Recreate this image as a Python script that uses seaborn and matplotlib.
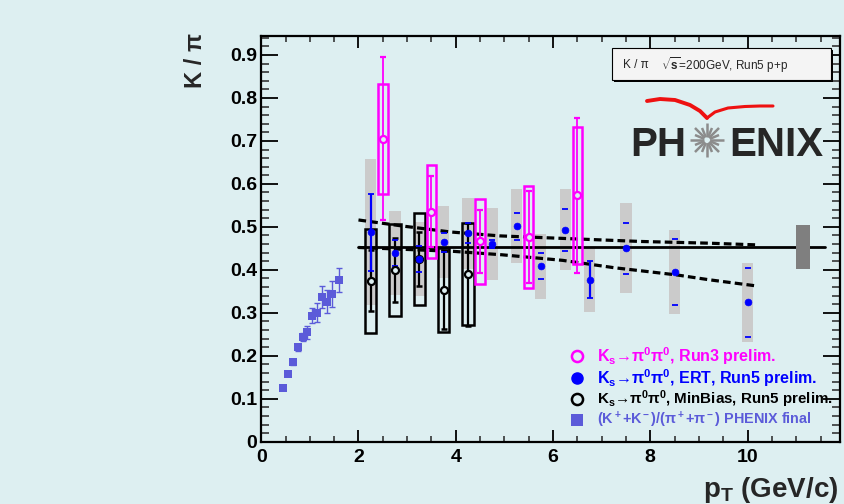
import numpy as np
import matplotlib
matplotlib.use("Agg")
import matplotlib.pyplot as plt
from matplotlib.patches import Rectangle
import seaborn as sns

# ---------------- data ----------------
# PHENIX final (K+ + K-)/(pi+ + pi-)
fin_pt = [0.45, 0.55, 0.65, 0.75, 0.85, 0.95, 1.05, 1.15, 1.25, 1.35, 1.45, 1.60]
fin_val = [0.126, 0.158, 0.185, 0.220, 0.244, 0.255, 0.293, 0.300, 0.337, 0.326, 0.344, 0.377]
fin_err = [0.004, 0.005, 0.006, 0.008, 0.010, 0.015, 0.017, 0.022, 0.025, 0.027, 0.030, 0.028]

# Ks -> pi0 pi0, ERT, Run5 prelim.
ert_pt = [2.25, 2.75, 3.25, 3.75, 4.25, 4.75, 5.25, 5.75, 6.25, 6.75, 7.5, 8.5, 10.0]
ert_val = [0.487, 0.439, 0.425, 0.464, 0.485, 0.460, 0.501, 0.408, 0.493, 0.377, 0.450, 0.395, 0.324]
ert_stat = [0.089, 0.030, 0.030, 0.022, 0.023, 0.010, 0.031, 0.030, 0.049, 0.043, 0.059, 0.077, 0.080]
ert_sys = [0.170, 0.097, 0.086, 0.084, 0.083, 0.083, 0.086, 0.075, 0.094, 0.075, 0.105, 0.097, 0.092]
ert_line_idx = [0, 9]   # points whose vertical stat bar is visible

# Ks -> pi0 pi0, MinBias, Run5 prelim.
mb_pt = [2.25, 2.75, 3.25, 3.75, 4.25]
mb_val = [0.375, 0.400, 0.425, 0.353, 0.390]
mb_stat = [0.070, 0.075, 0.062, 0.090, 0.120]
mb_sys = [0.121, 0.107, 0.107, 0.098, 0.119]

# Ks -> pi0 pi0, Run3 prelim.
r3_pt = [2.5, 3.5, 4.5, 5.5, 6.5]
r3_val = [0.705, 0.535, 0.466, 0.476, 0.573]
r3_stat = [0.190, 0.083, 0.073, 0.107, 0.180]
r3_sys = [0.128, 0.108, 0.099, 0.118, 0.160]

# constant fit and its band
fit_val = 0.454
fit_sys = 0.051
fit_range = [2.0, 11.6]
band_up_x = [2.0, 2.9, 3.9, 4.9, 6.0, 7.8, 9.2, 10.2]
band_up_y = [0.516, 0.502, 0.488, 0.479, 0.474, 0.466, 0.462, 0.458]
band_lo_x = [2.0, 3.95, 4.95, 6.2, 7.25, 8.55, 9.2, 10.15]
band_lo_y = [0.452, 0.443, 0.435, 0.422, 0.405, 0.388, 0.377, 0.363]

xticks = [0, 2, 4, 6, 8, 10]
yticks = [0, 0.1, 0.2, 0.3, 0.4, 0.5, 0.6, 0.7, 0.8, 0.9]
ytick_labels = ["0", "0.1", "0.2", "0.3", "0.4", "0.5", "0.6", "0.7", "0.8", "0.9"]

legend_labels = [
    "K$_s$\u2192\u03c0$^0$\u03c0$^0$, Run3 prelim.",
    "K$_s$\u2192\u03c0$^0$\u03c0$^0$, ERT, Run5 prelim.",
    "K$_s$\u2192\u03c0$^0$\u03c0$^0$, MinBias, Run5 prelim.",
    "(K$^+$+K$^-$)/(\u03c0$^+$+\u03c0$^-$) PHENIX final",
]

# ---------------- style ----------------
BG = "#ddeff1"
MAG = "#ff00ff"
BLUE = "#0000ff"
SLATE = "#5b5bd9"
GREY = "#cbcbcb"

sns.set_theme(style="white")
plt.rcParams["font.family"] = ["Liberation Sans", "DejaVu Sans"]
plt.rcParams["font.weight"] = "bold"
plt.rcParams["mathtext.fontset"] = "custom"
plt.rcParams["mathtext.rm"] = "Liberation Sans:bold"
plt.rcParams["mathtext.it"] = "Liberation Sans:bold"
plt.rcParams["mathtext.bf"] = "Liberation Sans:bold"
plt.rcParams["mathtext.default"] = "bf"

W, H = 844, 504
fig = plt.figure(figsize=(W / 100, H / 100), dpi=100, facecolor=BG)
x0px, x1px = 261.2, 840.0
y0px, ypx_per = 441.7, 429.7
ymax = 0.945
xmax = 11.9
ax = fig.add_axes([x0px / W, 1 - y0px / H, (x1px - x0px) / W, ymax * ypx_per / H])
ax.set_facecolor(BG)
ax.set_xlim(0, xmax)
ax.set_ylim(0, ymax)

# grey systematic boxes (ERT)
hw = 0.115
for p, v, s in zip(ert_pt, ert_val, ert_sys):
    ax.add_patch(Rectangle((p - hw, v - s), 2 * hw, 2 * s, fc=GREY, ec="none", zorder=1))

# fit line, band and fit systematic box
ax.plot(fit_range, [fit_val, fit_val], color="black", lw=2.0, zorder=2)
ax.plot(band_up_x, band_up_y, color="black", lw=2.3, ls=(0, (2.4, 1.3)), zorder=2)
ax.plot(band_lo_x, band_lo_y, color="black", lw=2.3, ls=(0, (2.4, 1.3)), zorder=2)
fit_box_x, fit_box_hw = 11.14, 0.15
ax.add_patch(Rectangle((fit_box_x - fit_box_hw, fit_val - fit_sys), 2 * fit_box_hw, 2 * fit_sys,
                       fc="#7f7f7f", ec="none", zorder=2))

# MinBias black boxes + errors
for p, v, s in zip(mb_pt, mb_val, mb_sys):
    ax.add_patch(Rectangle((p - hw, v - s), 2 * hw, 2 * s, fill=False, ec="black", lw=1.8, zorder=3))
ax.errorbar(mb_pt, mb_val, yerr=mb_stat, fmt="none", ecolor="black", elinewidth=1.6,
            capsize=2.5, capthick=1.8, zorder=3)

# ERT stat errors (caps) and markers
ax.errorbar(ert_pt, ert_val, yerr=ert_stat, fmt="none", ecolor=BLUE, elinewidth=0,
            capsize=2.2, capthick=1.3, zorder=4)
ax.errorbar([ert_pt[i] for i in ert_line_idx], [ert_val[i] for i in ert_line_idx],
            yerr=[ert_stat[i] for i in ert_line_idx], fmt="none", ecolor=BLUE,
            elinewidth=1.6, capsize=0, zorder=4)
sns.scatterplot(x=ert_pt, y=ert_val, marker="o", s=24, color=BLUE, edgecolor=BLUE,
                linewidth=0.5, ax=ax, zorder=6)

# MinBias circles
sns.scatterplot(x=mb_pt, y=mb_val, marker="o", s=26, facecolor=BG, edgecolor="black",
                linewidth=1.6, ax=ax, zorder=5)

# Run3 magenta
hw3 = 0.097
for p, v, s in zip(r3_pt, r3_val, r3_sys):
    ax.add_patch(Rectangle((p - hw3, v - s), 2 * hw3, 2 * s, fill=False, ec=MAG, lw=1.8, zorder=5))
ax.errorbar(r3_pt, r3_val, yerr=r3_stat, fmt="none", ecolor=MAG, elinewidth=1.3,
            capsize=2.5, capthick=1.6, zorder=5)
sns.scatterplot(x=r3_pt, y=r3_val, marker="o", s=26, facecolor=BG, edgecolor=MAG,
                linewidth=1.6, ax=ax, zorder=6)

# PHENIX final
ax.errorbar(fin_pt, fin_val, yerr=fin_err, fmt="none", ecolor=SLATE, elinewidth=1.0,
            capsize=2, capthick=1.0, zorder=6)
sns.scatterplot(x=fin_pt, y=fin_val, marker="s", s=30, color=SLATE, edgecolor=SLATE,
                linewidth=0, ax=ax, zorder=7)

# axes styling
for sp in ax.spines.values():
    sp.set_visible(True)
    sp.set_color("black")
    sp.set_linewidth(1.6)
ax.set_xticks(xticks)
ax.set_xticklabels([str(t) for t in xticks])
ax.set_yticks(yticks)
ax.set_yticklabels(ytick_labels)
ax.set_xticks(np.arange(0, xmax, 0.5), minor=True)
ax.set_yticks(np.arange(0, ymax, 0.02), minor=True)
ax.tick_params(axis="x", which="major", direction="in", length=8.6, width=1.3, top=True,
               bottom=True, labelsize=14, pad=5, colors="black")
ax.tick_params(axis="x", which="minor", direction="in", length=4.3, width=1.1, top=True, bottom=True)
ax.tick_params(axis="y", which="major", direction="in", length=12.2, width=1.3, left=True,
               right=True, labelsize=14, pad=3, colors="black")
ax.tick_params(axis="y", which="minor", direction="in", length=6, width=1.1, left=True, right=True)
for lab in ax.get_xticklabels() + ax.get_yticklabels():
    lab.set_fontweight("bold")
ax.set_xlabel("")
ax.set_ylabel("")

# ---------------- overlay (pixel coordinates) ----------------
ov = fig.add_axes([0, 0, 1, 1], zorder=10)
ov.set_xlim(0, W)
ov.set_ylim(H, 0)
ov.axis("off")
ov.patch.set_alpha(0)

# axis titles
ov.text(838, 497, "p$_T$ (GeV/c)", ha="right", va="baseline", fontsize=20, fontweight="bold")
ov.text(195, 33, "K / \u03c0", ha="center", va="top", rotation=90, fontsize=17, fontweight="bold")

# info box
ov.add_patch(Rectangle((614, 50), 219, 32, fc="black", ec="none", zorder=1))
ov.add_patch(Rectangle((612, 48), 219, 32, fc="#f4f4f4", ec="black", lw=0.8, zorder=2))
ov.text(623, 65, "K / \u03c0", ha="left", va="center", fontsize=8.5, fontweight="normal", zorder=3)
ov.text(661, 65, "$\\sqrt{\\mathrm{s}}$=200GeV, Run5 p+p", ha="left", va="center",
        fontsize=8.5, fontweight="normal", zorder=3)

# PHENIX logo
ov.text(686, 156, "PH", ha="right", va="baseline", fontsize=29, fontweight="bold")
ov.text(729, 156, "ENIX", ha="left", va="baseline", fontsize=29, fontweight="bold")
cx, cy = 707, 140
for k, ang in enumerate(np.arange(0, 360, 22.5)):
    a = np.deg2rad(ang)
    r_out = 17 if k % 2 == 0 else 13
    ov.plot([cx + 3 * np.cos(a), cx + r_out * np.cos(a)], [cy + 3 * np.sin(a), cy + r_out * np.sin(a)],
            color="#8c8c8c", lw=1.8, solid_capstyle="butt")
ov.plot([647, 660, 675, 690, 700, 707], [101, 99, 100, 105, 111, 118], color="#ee1111", lw=2.8,
        solid_capstyle="round")
ov.plot([707, 715, 728, 745, 760, 773], [118, 112, 108, 106.5, 106, 106], color="#ee1111", lw=2.2,
        solid_capstyle="round")

# legend
leg_y = [356, 378, 399, 420]
leg_colors = [MAG, BLUE, "black", SLATE]
leg_sizes = [11.5, 11.5, 10.9, 10.4]
ov.plot([577], [leg_y[0]], marker="o", ms=8, mfc="none", mec=MAG, mew=1.8)
ov.plot([577], [leg_y[1]], marker="o", ms=8, mfc=BLUE, mec=BLUE, mew=1.0)
ov.plot([577], [leg_y[2]], marker="o", ms=8, mfc="none", mec="black", mew=1.8)
ov.plot([577], [leg_y[3]], marker="s", ms=9, mfc=SLATE, mec=SLATE, mew=0)
for yy, lab, col, fs in zip(leg_y, legend_labels, leg_colors, leg_sizes):
    ov.text(597, yy, lab, ha="left", va="center", fontsize=fs, fontweight="bold", color=col)

fig.savefig("out.png", dpi=100, facecolor=BG)
